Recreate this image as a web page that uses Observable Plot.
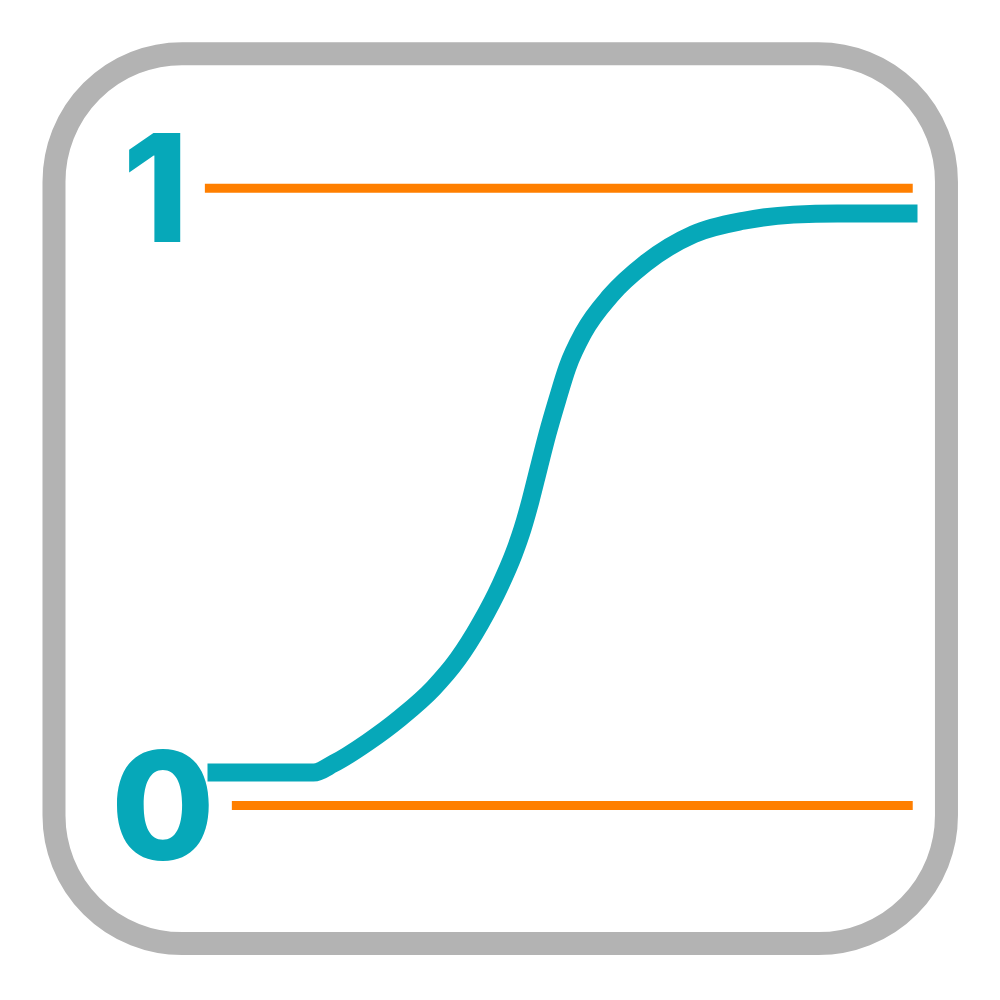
<!DOCTYPE html>
<html>
<head>
<meta charset="utf-8">
<script src="https://cdn.jsdelivr.net/npm/d3@7"></script>
<script src="https://cdn.jsdelivr.net/npm/@observablehq/plot@0.6"></script>
<style>
  html, body { margin: 0; padding: 0; background: #ffffff; }
  #chart svg { display: block; }
</style>
</head>
<body>
<div id="chart"></div>
<script>
// Sigmoid curve values (x in arbitrary units 0..10, y normalized 0..1)
const curveX = [0, 1.493, 1.775, 2.254, 2.718, 3.183, 3.521, 3.845, 4.127, 4.310, 4.437, 4.549, 4.662, 4.789, 4.930, 5.070, 5.296, 5.676, 6.169, 6.845, 7.549, 8.254, 8.873, 10];
const curveY = [0, 0, 0.016, 0.054, 0.098, 0.151, 0.202, 0.267, 0.336, 0.390, 0.436, 0.486, 0.543, 0.606, 0.668, 0.725, 0.787, 0.853, 0.911, 0.963, 0.987, 0.998, 1.0, 1.0];

// Reference (orange) lines
const refY = [1.045, -0.059];
const refX1 = [-0.03, 0.35];
const refX2 = [9.94, 9.94];

// Labels
const labelText = ["1", "0"];
const labelX = [-0.73, -0.63];
const labelY = [1.034, -0.071];

// Frame extents
const frameX = [-2.155, 10.415];
const frameY = [-0.307, 1.285];

const curve = curveX.map((x, i) => ({x, y: curveY[i]}));
const refs = refY.map((y, i) => ({y, x1: refX1[i], x2: refX2[i]}));
const labels = labelText.map((t, i) => ({t, x: labelX[i], y: labelY[i]}));
const frame = [{x1: frameX[0], x2: frameX[1], y1: frameY[0], y2: frameY[1]}];

const teal = "#06a8b9";

const chart = Plot.plot({
  width: 1000,
  height: 1000,
  marginLeft: 207,
  marginRight: 83,
  marginTop: 213,
  marginBottom: 228,
  x: {domain: [0, 10], axis: null},
  y: {domain: [0, 1], axis: null},
  style: {background: "#ffffff"},
  marks: [
    Plot.rect(frame, {x1: "x1", x2: "x2", y1: "y1", y2: "y2", rx: 128, ry: 128, fill: "#ffffff", stroke: "#b3b3b3", strokeWidth: 23}),
    Plot.ruleY(refs, {y: "y", x1: "x1", x2: "x2", stroke: "#ff7f00", strokeWidth: 9}),
    Plot.line(curve, {x: "x", y: "y", stroke: teal, strokeWidth: 18, curve: "monotone-x", strokeLinecap: "butt", strokeLinejoin: "round"}),
    Plot.text(labels, {x: "x", y: "y", text: "t", fill: teal, fontSize: 150, fontWeight: 800, fontFamily: "Inter, 'Open Sans', sans-serif", textAnchor: "middle", lineAnchor: "middle"})
  ]
});
document.getElementById("chart").appendChild(chart);
</script>
</body>
</html>
